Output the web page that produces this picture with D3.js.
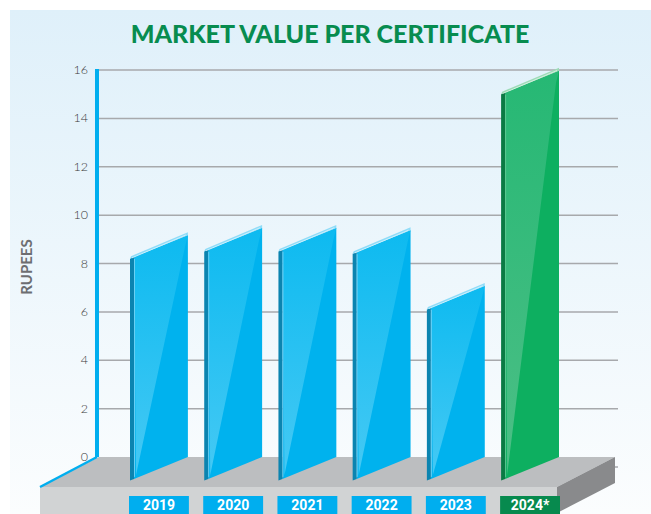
<!DOCTYPE html>
<html>
<head>
<meta charset="utf-8">
<script src="https://cdn.jsdelivr.net/npm/d3@7"></script>
<style>
  html, body { margin: 0; padding: 0; background: #ffffff; }
  svg { display: block; }
</style>
</head>
<body>
<div id="chart"></div>
<script>
const years = ['2019', '2020', '2021', '2022', '2023', '2024*'];
const values = [8.2, 8.5, 8.5, 8.4, 6.1, 15.0];
const yTicks = [0, 2, 4, 6, 8, 10, 12, 14, 16];
const highlightYear = '2024*';

document.addEventListener('DOMContentLoaded', function() {
    const width = 651, height = 514;

    const svg = d3.select('#chart')
        .append('svg')
        .attr('width', width)
        .attr('height', height)
        .attr('viewBox', `0 0 ${width} ${height}`);

    const defs = svg.append('defs');

    // light blue backdrop
    const bg = defs.append('linearGradient')
        .attr('id', 'bg').attr('x1', 0).attr('y1', 0).attr('x2', 0).attr('y2', 1);
    bg.append('stop').attr('offset', '0%').attr('stop-color', '#dff0fa');
    bg.append('stop').attr('offset', '100%').attr('stop-color', '#fbfdfe');

    // glass highlight gradients
    function glow(id, c1, c2) {
        const g = defs.append('linearGradient')
            .attr('id', id).attr('x1', 0).attr('y1', 1).attr('x2', 0).attr('y2', 0);
        g.append('stop').attr('offset', '0%').attr('stop-color', c1);
        g.append('stop').attr('offset', '100%').attr('stop-color', c2);
    }
    glow('glowBlue', '#45c9f4', '#0dbaf0');
    glow('glowGreen', '#4cbf86', '#26b874');

    svg.append('rect')
        .attr('x', 10).attr('y', 10)
        .attr('width', width - 10).attr('height', height - 10)
        .attr('fill', 'url(#bg)');

    // scales
    const y = d3.scaleLinear().domain([0, 16]).range([457, 70]);
    const x = d3.scaleBand().domain(years).range([130, 559]).paddingInner(0.22).paddingOuter(0);

    const axisX = 97;
    const gridRight = 618;
    const slant = 23.5;     // rise of each glass panel from front to back
    const depthX = 58, depthY = 30;  // platform depth

    // title
    svg.append('text')
        .attr('x', 330).attr('y', 43)
        .attr('text-anchor', 'middle')
        .style('font-family', 'Lato, "Open Sans", sans-serif')
        .style('font-weight', '900')
        .style('font-size', '25px')
        .attr('fill', '#078c4f')
        .text('MARKET VALUE PER CERTIFICATE');

    // y label
    svg.append('text')
        .attr('transform', 'translate(32,267) rotate(-90)')
        .attr('text-anchor', 'middle')
        .style('font-family', 'Lato, "Open Sans", sans-serif')
        .style('font-weight', '700')
        .style('font-size', '15px')
        .attr('fill', '#6d6e71')
        .text('RUPEES');

    // gridlines
    svg.append('g')
        .selectAll('line')
        .data(yTicks.filter(d => d > 0))
        .enter()
        .append('line')
        .attr('x1', axisX).attr('x2', gridRight)
        .attr('y1', d => y(d)).attr('y2', d => y(d))
        .attr('stroke', '#a7a9ac')
        .attr('stroke-width', 1.5);

    // tick labels
    svg.append('g')
        .selectAll('text')
        .data(yTicks)
        .enter()
        .append('text')
        .attr('x', 88)
        .attr('y', d => y(d) + 4)
        .attr('text-anchor', 'end')
        .style('font-family', 'Lato, "Open Sans", sans-serif')
        .style('font-weight', '300')
        .style('font-size', '12.5px')
        .attr('fill', '#3a3a3a')
        .text(d => d);

    // axis line
    svg.append('line')
        .attr('x1', axisX).attr('x2', axisX)
        .attr('y1', y(16) - 1).attr('y2', y(0))
        .attr('stroke', '#00aeef')
        .attr('stroke-width', 4);

    // platform
    const y0 = y(0);
    const backL = axisX + 2, backR = 615;
    const frontL = backL - depthX - 1, frontR = backR - depthX;
    svg.append('polygon')
        .attr('points', [[backL, y0], [backR, y0], [frontR, y0 + depthY], [frontL, y0 + depthY]].join(' '))
        .attr('fill', '#bcbec0');
    svg.append('rect')
        .attr('x', frontL).attr('y', y0 + depthY)
        .attr('width', frontR - frontL).attr('height', height - y0 - depthY)
        .attr('fill', '#d1d3d4');
    svg.append('polygon')
        .attr('points', [[frontR, y0 + depthY], [backR, y0], [backR, y0 + 26], [frontR, y0 + 26 + depthY]].join(' '))
        .attr('fill', '#898a8c');
    svg.append('line')
        .attr('x1', axisX).attr('y1', y0)
        .attr('x2', frontL).attr('y2', y0 + depthY)
        .attr('stroke', '#00aeef')
        .attr('stroke-width', 2.5);
    svg.append('line')
        .attr('x1', backR).attr('x2', gridRight)
        .attr('y1', y0 + 10).attr('y2', y0 + 10)
        .attr('stroke', '#a7a9ac').attr('stroke-width', 1.5);

    // bars as slanted glass panels
    const data = years.map((yr, i) => ({ year: yr, value: values[i] }));
    const bars = svg.append('g').selectAll('g').data(data).enter().append('g');

    bars.each(function(d) {
        const g = d3.select(this);
        const green = d.year === highlightYear;
        const x0 = x(d.year), w = x.bandwidth();
        const yt = y(d.value), yb = y0 + slant;
        const k = slant / w;
        const t = 4;

        const base = green ? '#0daf60' : '#00b2ee';
        const side = green ? '#0a7a44' : '#0b84b0';
        const topEdge = green ? '#9ddbb7' : '#8fdcf8';
        const line = green ? '#6ccf9c' : '#7fd6f6';

        // main face
        g.append('polygon')
            .attr('points', [[x0 + t, yt - t * k], [x0 + w, yt - slant], [x0 + w, y0], [x0 + t, yb - t * k]].join(' '))
            .attr('fill', base);
        // lighter upper-left triangle
        g.append('polygon')
            .attr('points', [[x0 + t, yt - t * k], [x0 + w, yt - slant], [x0 + w - 3, yt - slant + 12], [x0 + t + 2, yb - t * k - 4]].join(' '))
            .attr('fill', green ? 'url(#glowGreen)' : 'url(#glowBlue)');
        // glass thickness on the left
        g.append('polygon')
            .attr('points', [[x0, yt], [x0 + t, yt - t * k], [x0 + t, yb - t * k], [x0, yb]].join(' '))
            .attr('fill', side);
        // thin light line next to the edge
        g.append('line')
            .attr('x1', x0 + t + 0.5).attr('x2', x0 + t + 0.5)
            .attr('y1', yt - t * k + 2).attr('y2', yb - t * k - 2)
            .attr('stroke', line).attr('stroke-width', 1).attr('opacity', 0.8);
        // top edge
        g.append('polygon')
            .attr('points', [[x0, yt], [x0 + w, yt - slant], [x0 + w, yt - slant - 3], [x0 + 1, yt - 2.5]].join(' '))
            .attr('fill', topEdge);
        g.append('line')
            .attr('x1', x0 + 2).attr('y1', yt - 0.8)
            .attr('x2', x0 + w - 2).attr('y2', yt - slant - 0.2)
            .attr('stroke', '#ffffff').attr('stroke-width', 0.8).attr('opacity', 0.7);
    });

    // year labels
    const labels = svg.append('g').selectAll('g').data(data).enter().append('g');
    labels.append('rect')
        .attr('x', d => x(d.year) - 1)
        .attr('y', 496)
        .attr('width', x.bandwidth() + 2)
        .attr('height', 20)
        .attr('fill', d => d.year === highlightYear ? '#078a4e' : '#00aeef');
    labels.append('text')
        .attr('x', d => x(d.year) + x.bandwidth() / 2)
        .attr('y', 510)
        .attr('text-anchor', 'middle')
        .style('font-family', 'Roboto, "Liberation Sans Narrow", sans-serif')
        .style('font-weight', '700')
        .style('font-size', '14px')
        .attr('fill', '#ffffff')
        .text(d => d.year);
});
</script>
</body>
</html>
